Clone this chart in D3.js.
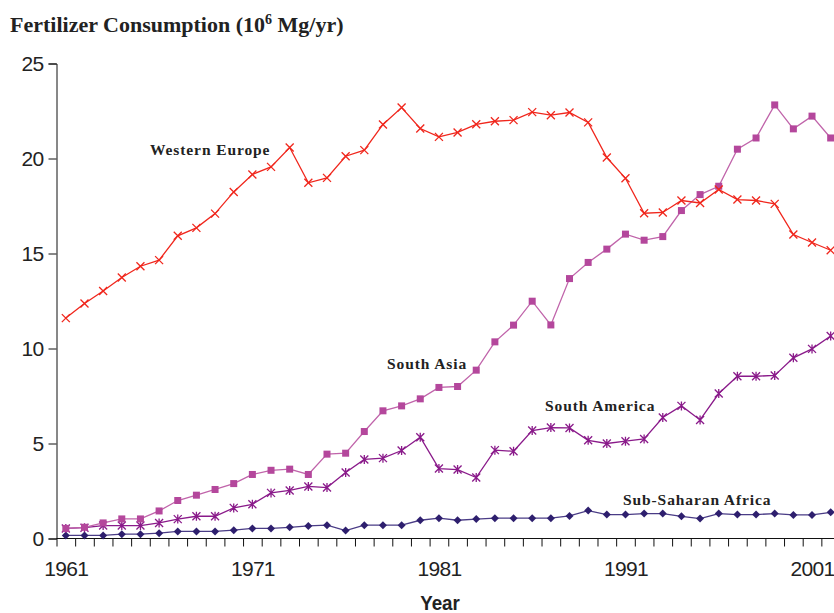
<!DOCTYPE html>
<html>
<head>
<meta charset="utf-8">
<script src="https://cdn.jsdelivr.net/npm/d3@7"></script>
<style>
  body { margin: 0; background: #fff; }
  svg { display: block; }
  .tick-lab { font-family: "Liberation Sans", Arial, sans-serif; font-size: 21px; letter-spacing: -0.7px; fill: #222; }
  .serif-b { font-family: "Liberation Serif", "Times New Roman", serif; font-weight: bold; fill: #222; }
</style>
</head>
<body>
<svg id="chart" width="834" height="613"></svg>
<script>
const years = d3.range(1961, 2003);
const yearLabels = [1961, 1971, 1981, 1991, 2001];
const yTicks = [0, 5, 10, 15, 20, 25];

const westernEurope = [11.6, 12.37, 13.03, 13.74, 14.33, 14.65, 15.93, 16.35, 17.1, 18.24,
  19.16, 19.56, 20.58, 18.72, 18.98, 20.12, 20.44, 21.79, 22.68, 21.58,
  21.14, 21.37, 21.8, 21.96, 22.02, 22.44, 22.28, 22.42, 21.9, 20.05,
  18.96, 17.12, 17.16, 17.79, 17.66, 18.37, 17.84, 17.79, 17.61, 16.0,
  15.58, 15.17];
const southAsia = [0.53, 0.59, 0.82, 1.03, 1.03, 1.45, 2.0, 2.28, 2.58, 2.89,
  3.37, 3.59, 3.65, 3.37, 4.44, 4.49, 5.63, 6.72, 6.98, 7.35,
  7.95, 8.0, 8.86, 10.35, 11.23, 12.49, 11.24, 13.68, 14.53, 15.23,
  16.02, 15.7, 15.89, 17.26, 18.1, 18.54, 20.49, 21.08, 22.82, 21.56,
  22.23, 21.08];
const southAmerica = [0.53, 0.57, 0.68, 0.68, 0.68, 0.82, 1.02, 1.17, 1.17, 1.61,
  1.8, 2.4, 2.53, 2.74, 2.68, 3.47, 4.16, 4.23, 4.63, 5.33,
  3.68, 3.63, 3.21, 4.65, 4.59, 5.68, 5.84, 5.82, 5.17, 5.0,
  5.12, 5.24, 6.37, 6.98, 6.24, 7.63, 8.54, 8.54, 8.58, 9.51,
  9.98, 10.66];
const subSaharanAfrica = [0.16, 0.16, 0.16, 0.23, 0.23, 0.28, 0.37, 0.37, 0.37, 0.44,
  0.53, 0.53, 0.59, 0.66, 0.7, 0.42, 0.7, 0.7, 0.7, 0.96,
  1.07, 0.96, 1.02, 1.07, 1.07, 1.07, 1.07, 1.19, 1.47, 1.26,
  1.26, 1.31, 1.31, 1.17, 1.05, 1.31, 1.26, 1.26, 1.31, 1.24,
  1.24, 1.38];

const series = [
  { name: "Sub-Saharan Africa", values: subSaharanAfrica, color: "#2e1f6e", line: "#4a3c86", marker: "diamond", lx: 623, ly: 505 },
  { name: "South America", values: southAmerica, color: "#8a1a8a", line: "#8a1a8a", marker: "asterisk", lx: 545, ly: 411 },
  { name: "South Asia", values: southAsia, color: "#b4479c", line: "#c064aa", marker: "square", lx: 387, ly: 369 },
  { name: "Western Europe", values: westernEurope, color: "#f0261c", line: "#f0261c", marker: "cross", lx: 150, ly: 155 }
];

const svg = d3.select("#chart");
const x = d3.scaleLinear().domain([1960.5, 2002.5]).range([56.5, 840]);
const y = d3.scaleLinear().domain([0, 25]).range([538.5, 63.5]);

// title
const title = svg.append("text").attr("class", "serif-b")
  .attr("x", 10).attr("y", 32).attr("font-size", 22);
title.append("tspan").text("Fertilizer Consumption (10");
title.append("tspan").attr("dy", -8).attr("font-size", 14).text("6");
title.append("tspan").attr("dy", 8).text(" Mg/yr)");

// y axis
const yAxis = svg.append("g").attr("transform", `translate(${x.range()[0]},0)`)
  .call(d3.axisLeft(y).tickValues(yTicks).tickSize(8).tickPadding(5));
yAxis.selectAll("text").attr("class", "tick-lab").attr("font-size", null).attr("font-family", null);

// x axis: ticks at category boundaries, labels under the points
const xTicks = svg.append("g").attr("transform", `translate(0,${y(0)})`)
  .call(d3.axisBottom(x).tickValues(d3.range(1960.5, 2003, 1)).tickSize(8).tickFormat(""));
xTicks.select(".domain").remove();
const xLab = svg.append("g").attr("transform", `translate(0,${y(0)})`)
  .call(d3.axisBottom(x).tickValues(yearLabels).tickSize(0).tickPadding(22.5).tickFormat(d3.format("d")));
xLab.select(".domain").remove();
xLab.selectAll("text").attr("class", "tick-lab").attr("font-size", null).attr("font-family", null);
svg.append("line").attr("x1", x.range()[0]).attr("x2", 840)
  .attr("y1", y(0)).attr("y2", y(0)).attr("stroke", "#111");
svg.selectAll(".domain, .tick line").attr("stroke", "#111");

svg.append("text").attr("x", 440).attr("y", 610).attr("text-anchor", "middle")
  .attr("font-family", "'Liberation Sans', Arial, sans-serif")
  .attr("font-weight", "bold").attr("font-size", 20).attr("fill", "#222")
  .attr("transform", "translate(440,0) scale(0.94,1) translate(-440,0)").text("Year");

const line = d3.line().x((d, i) => x(years[i])).y(d => y(d));

function drawMarker(g, type, color) {
  if (type === "square") {
    g.append("rect").attr("x", -3.5).attr("y", -3.5).attr("width", 7).attr("height", 7).attr("fill", color);
  } else if (type === "diamond") {
    g.append("path").attr("d", "M0,-4L4,0L0,4L-4,0Z").attr("fill", color);
  } else if (type === "cross") {
    g.append("path").attr("d", "M-4,-4L4,4M-4,4L4,-4").attr("stroke", color).attr("stroke-width", 1.3);
  } else if (type === "asterisk") {
    g.append("path").attr("d", "M-4,-4L4,4M-4,4L4,-4M0,-4.5L0,4.5").attr("stroke", color).attr("stroke-width", 1.3);
  }
}

series.forEach(s => {
  svg.append("path").datum(s.values).attr("d", line)
    .attr("fill", "none").attr("stroke", s.line).attr("stroke-width", 1.3);
  s.values.forEach((v, i) => {
    const g = svg.append("g").attr("transform", `translate(${x(years[i])},${y(v)})`);
    drawMarker(g, s.marker, s.color);
  });
  svg.append("text").attr("class", "serif-b").attr("x", s.lx).attr("y", s.ly)
    .attr("font-size", 15.5).attr("letter-spacing", 0.9).text(s.name);
});
</script>
</body>
</html>
